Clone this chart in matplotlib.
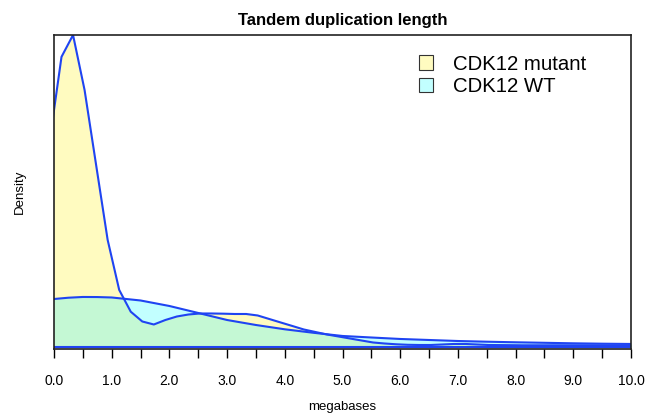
import numpy as np
import matplotlib
matplotlib.use('Agg')
import matplotlib.pyplot as plt
from matplotlib.patches import Patch

plt.rcParams['font.family'] = ['Liberation Sans', 'DejaVu Sans']

# density estimates (megabases vs density)
mut_x = [-0.07, 0.13, 0.33, 0.53, 0.73, 0.93, 1.13, 1.33, 1.53, 1.73, 1.93,
         2.13, 2.33, 2.53, 2.73, 2.93, 3.13, 3.33, 3.53, 3.73, 3.93, 4.13,
         4.33, 4.53, 4.73, 4.93, 5.13, 5.33, 5.53, 5.73, 5.93, 6.13, 6.33,
         6.53, 6.73, 6.93, 7.13, 7.33, 7.53, 8.13, 9.13, 10.13]
mut_y = [0.534, 0.744, 0.800, 0.659, 0.467, 0.275, 0.147, 0.0912, 0.0661,
         0.0584, 0.0699, 0.0789, 0.0840, 0.0866, 0.0866, 0.0861, 0.0853,
         0.0853, 0.0815, 0.0725, 0.0635, 0.0546, 0.0456, 0.0392, 0.0328,
         0.0277, 0.0225, 0.0174, 0.0123, 0.0097, 0.0077, 0.0064, 0.0059,
         0.0059, 0.0072, 0.0085, 0.0085, 0.0072, 0.0059, 0.0051, 0.0051,
         0.0051]

wt_x = [-0.2, 0.0, 0.25, 0.5, 0.75, 1.0, 1.5, 2.0, 2.5, 3.0, 3.5, 4.0, 4.5,
        5.0, 5.5, 6.0, 6.5, 7.0, 7.5, 8.0, 8.5, 9.0, 9.5, 10.0, 10.2]
wt_y = [0.121, 0.1237, 0.1270, 0.1289, 0.1287, 0.1276, 0.1199, 0.1058,
        0.0879, 0.0699, 0.0571, 0.0461, 0.0371, 0.0290, 0.0251, 0.0213,
        0.0187, 0.0161, 0.0143, 0.0128, 0.0115, 0.0102, 0.0092, 0.0085,
        0.0083]

labels = ['CDK12 mutant', 'CDK12 WT']
col_mut = '#FFFBC0'
col_wt = '#C2FFFF'
col_both = '#C4F8D4'
line_col = '#1F44F2'

fig = plt.figure(figsize=(6.48, 4.13), dpi=100)
ax = fig.add_axes([54 / 648, 64.5 / 413, 577 / 648, 313.5 / 413])

grid = np.linspace(-0.2, 10.2, 3000)
m = np.interp(grid, mut_x, mut_y)
w = np.interp(grid, wt_x, wt_y)

ax.fill_between(grid, 0, m, color=col_mut, lw=0)
ax.fill_between(grid, 0, w, color=col_wt, lw=0)
ax.fill_between(grid, 0, np.minimum(m, w), color=col_both, lw=0)
ax.plot(mut_x, mut_y, color=line_col, lw=1.5)
ax.plot(wt_x, wt_y, color=line_col, lw=1.5)
ax.axhline(0, color=line_col, lw=1.5)

ax.set_xlim(0, 10)
ax.set_ylim(-0.0031, 0.800)
ax.set_yticks([])
ticks = np.arange(0, 10.01, 0.5)
ax.set_xticks(ticks)
ax.set_xticklabels(['%.1f' % t if t == int(t) else '' for t in ticks],
                   fontsize=10)
ax.tick_params(axis='x', length=6.5, width=1, pad=12)
for s in ax.spines.values():
    s.set_linewidth(1.2)
    s.set_color('#222222')

ax.set_title('Tandem duplication length', fontsize=12, fontweight='bold',
             pad=7)
ax.set_xlabel('megabases', fontsize=9.5, labelpad=9)
ax.set_ylabel('Density', fontsize=9.5, labelpad=20)

handles = [Patch(facecolor=col_mut, edgecolor='#333333', lw=0.8),
           Patch(facecolor=col_wt, edgecolor='#333333', lw=0.8)]
ax.legend(handles, labels, loc='upper right', bbox_to_anchor=(0.937, 0.963),
          frameon=False, fontsize=14.7, handlelength=0.7, handleheight=0.7,
          handletextpad=1.0, labelspacing=0.18, borderaxespad=0)

fig.savefig('out.png', dpi=100)
